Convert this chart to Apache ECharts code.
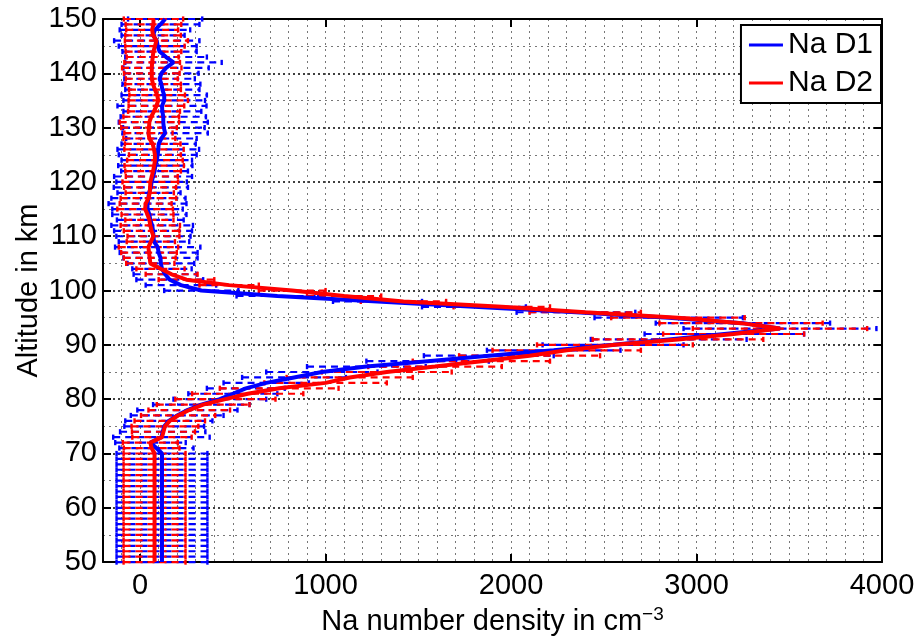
<!DOCTYPE html>
<html>
<head>
<meta charset="utf-8">
<script src="https://cdn.jsdelivr.net/npm/echarts@6/dist/echarts.min.js"></script>
<style>
html, body { margin: 0; padding: 0; background: #fff; }
#chart { width: 922px; height: 641px; }
</style>
</head>
<body>
<div id="chart"></div>
<script>
// altitude grid (km)
var altitudes = [
    50, 51, 52, 53, 54, 55, 56, 57, 58, 59, 60, 61, 62, 63, 64, 65, 66, 67, 68, 69,
    70, 71, 72, 73, 74, 75, 76, 77, 78, 79, 80, 81, 82, 83, 84, 85, 86, 87, 88, 89,
    90, 91, 92, 93, 94, 95, 96, 97, 98, 99, 100, 101, 102, 103, 104, 105, 106, 107, 108, 109,
    110, 111, 112, 113, 114, 115, 116, 117, 118, 119, 120, 121, 122, 123, 124, 125, 126, 127, 128, 129,
    130, 131, 132, 133, 134, 135, 136, 137, 138, 139, 140, 141, 142, 143, 144, 145, 146, 147, 148, 149, 150
];

// Na D1 density (cm^-3) and error half width
var naD1 = [
    118, 118, 118, 118, 118, 118, 118, 118, 118, 118, 118, 118, 118, 118, 118, 118, 118, 118, 118, 118,
    118, 88, 56, 115, 122, 130, 155, 200, 255, 330, 430, 500, 570, 680, 830, 980, 1220, 1550, 1880, 2230,
    2550, 2850, 3150, 3450, 3250, 2850, 2350, 1800, 1280, 740, 330, 220, 160, 135, 118, 112, 110, 100, 95, 75,
    72, 70, 65, 55, 50, 40, 40, 45, 48, 58, 62, 70, 78, 82, 90, 95, 98, 100, 115, 135,
    128, 125, 125, 120, 118, 130, 130, 120, 115, 105, 115, 140, 180, 140, 105, 95, 90, 70, 80, 110, 135
];
var naD1Err = [
    245, 245, 245, 245, 245, 245, 245, 245, 245, 245, 245, 245, 245, 245, 245, 245, 245, 245, 245, 245,
    245, 200, 190, 260, 230, 215, 235, 250, 270, 260, 250, 240, 210, 230, 280, 300, 320, 330, 350, 360,
    380, 420, 430, 520, 470, 400, 320, 280, 240, 220, 200, 190, 180, 170, 160, 180, 200, 210, 230, 190,
    200, 210, 220, 180, 200, 190, 210, 200, 170, 200, 190, 210, 180, 200, 190, 210, 220, 200, 190, 230,
    220, 240, 230, 210, 240, 220, 230, 200, 210, 190, 200, 230, 260, 220, 200, 210, 230, 170, 190, 210, 200
];

// Na D2 density (cm^-3) and error half width
var naD2 = [
    78, 78, 78, 78, 78, 78, 78, 78, 78, 78, 78, 78, 78, 78, 78, 78, 78, 78, 78, 78,
    78, 62, 55, 118, 126, 134, 160, 205, 265, 340, 460, 580, 750, 1000, 1130, 1330, 1590, 1840, 2100, 2300,
    2560, 2900, 3200, 3450, 3240, 2900, 2400, 1950, 1420, 1100, 820, 480, 250, 170, 110, 55, 52, 48, 45, 58,
    72, 62, 55, 50, 40, 27, 30, 45, 52, 54, 55, 63, 70, 76, 80, 80, 75, 68, 50, 45,
    48, 50, 60, 75, 88, 98, 92, 80, 70, 63, 63, 63, 65, 68, 72, 80, 88, 70, 65, 72, 72
];
var naD2Err = [
    167, 167, 167, 167, 167, 167, 167, 167, 167, 167, 167, 167, 167, 167, 167, 167, 167, 167, 167, 167,
    167, 150, 148, 160, 170, 180, 190, 200, 220, 250, 270, 300, 320, 330, 340, 350, 360, 370, 380, 400,
    420, 460, 380, 470, 440, 360, 300, 260, 230, 200, 180, 160, 150, 140, 130, 130, 140, 150, 160, 130,
    140, 150, 160, 130, 140, 150, 140, 150, 130, 140, 150, 140, 150, 160, 150, 140, 160, 150, 140, 130,
    150, 160, 150, 140, 150, 160, 150, 140, 150, 140, 150, 160, 150, 140, 150, 160, 170, 150, 140, 150, 160
];

var xTicks = [0, 1000, 2000, 3000, 4000];
var seriesNames = ['Na D1', 'Na D2'];

var FONT = '"Liberation Sans", Arial, Helvetica, sans-serif';

function toLine(vals) {
    return altitudes.map(function (a, i) { return [vals[i], a]; });
}
function toBars(vals, errs) {
    return altitudes.map(function (a, i) { return [vals[i] - errs[i], vals[i] + errs[i], a]; });
}

// horizontal error bar with end caps
function errorBar(color) {
    return function (params, api) {
        var alt = api.value(2);
        var p1 = api.coord([api.value(0), alt]);
        var p2 = api.coord([api.value(1), alt]);
        var h = 2.6;
        return {
            type: 'group',
            children: [
                { type: 'line', shape: { x1: p1[0], y1: p1[1], x2: p2[0], y2: p2[1] },
                  style: { stroke: color, lineWidth: 2.2, lineDash: [7, 5] } },
                { type: 'line', shape: { x1: p1[0], y1: p1[1] - h, x2: p1[0], y2: p1[1] + h },
                  style: { stroke: color, lineWidth: 2.4 } },
                { type: 'line', shape: { x1: p2[0], y1: p2[1] - h, x2: p2[0], y2: p2[1] + h },
                  style: { stroke: color, lineWidth: 2.4 } }
            ]
        };
    };
}

var myChart = echarts.init(document.getElementById('chart'));

var frame = { show: true, onZero: false, lineStyle: { color: '#000', width: 2 } };

option = {
    animation: false,
    backgroundColor: '#fff',
    textStyle: { fontFamily: FONT },
    grid: { left: 103, right: 40, top: 19, bottom: 75, containLabel: false },
    legend: {
        data: seriesNames,
        orient: 'vertical',
        right: 41,
        top: 25,
        icon: 'rect',
        itemWidth: 34,
        itemHeight: 3,
        itemGap: 8,
        padding: [5, 8, 5, 8],
        backgroundColor: '#fff',
        borderColor: '#000',
        borderWidth: 2,
        borderRadius: 0,
        textStyle: { fontSize: 30, color: '#000', fontFamily: FONT }
    },
    xAxis: [{
        type: 'value',
        min: -200,
        max: 4000,
        interval: 100,
        position: 'bottom',
        name: 'Na number density in cm{sup|\u22123}',
        nameLocation: 'middle',
        nameGap: 40,
        nameTextStyle: {
            fontSize: 29, color: '#000', fontFamily: FONT,
            rich: { sup: { fontSize: 19, verticalAlign: 'top', padding: [0, 0, 14, 0], fontFamily: FONT, color: '#000' } }
        },
        axisLine: frame,
        axisTick: { show: false },
        axisLabel: {
            fontSize: 29, color: '#000', fontFamily: FONT, margin: 9,
            formatter: function (v) { return v % 1000 === 0 ? String(v) : ''; }
        },
        splitLine: { show: true, lineStyle: { color: '#777', width: 1, type: [2, 4] } }
    }, {
        type: 'value',
        min: -200,
        max: 4000,
        position: 'bottom',
        axisLine: { show: false, onZero: false },
        axisTick: { show: true, inside: true, length: 8, customValues: xTicks, lineStyle: { color: '#000', width: 2 } },
        axisLabel: { show: false },
        splitLine: { show: false }
    }, {
        type: 'value',
        min: -200,
        max: 4000,
        position: 'top',
        axisLine: frame,
        axisTick: { show: true, inside: true, length: 8, customValues: xTicks, lineStyle: { color: '#000', width: 2 } },
        axisLabel: { show: false },
        splitLine: { show: false }
    }],
    yAxis: [{
        type: 'value',
        min: 50,
        max: 150,
        interval: 10,
        position: 'left',
        name: 'Altitude in km',
        nameLocation: 'middle',
        nameGap: 60,
        nameMoveOverlap: false,
        nameTextStyle: { fontSize: 29, color: '#000', fontFamily: FONT },
        axisLine: frame,
        axisTick: { show: true, inside: true, length: 8, lineStyle: { color: '#000', width: 2 } },
        axisLabel: { fontSize: 29, color: '#000', fontFamily: FONT, margin: 6 },
        splitLine: { show: true, lineStyle: { color: '#000', width: 1.5, type: [2, 3] } },
        minorTick: { show: false, splitNumber: 2 },
        minorSplitLine: { show: true, lineStyle: { color: '#777', width: 1, type: [2, 4] } }
    }, {
        type: 'value',
        min: 50,
        max: 150,
        interval: 10,
        position: 'right',
        axisLine: frame,
        axisTick: { show: true, inside: true, length: 8, lineStyle: { color: '#000', width: 2 } },
        axisLabel: { show: false },
        splitLine: { show: false }
    }],
    series: [
        {
            name: 'D1 err',
            type: 'custom',
            renderItem: errorBar('#0000ff'),
            encode: { x: [0, 1], y: 2 },
            data: toBars(naD1, naD1Err),
            z: 1,
            silent: true
        },
        {
            name: 'D2 err',
            type: 'custom',
            renderItem: errorBar('#ff0000'),
            encode: { x: [0, 1], y: 2 },
            data: toBars(naD2, naD2Err),
            z: 2,
            silent: true
        },
        {
            name: seriesNames[0],
            type: 'line',
            data: toLine(naD1),
            showSymbol: false,
            color: '#0000ff',
            lineStyle: { color: '#0000ff', width: 4 },
            z: 3
        },
        {
            name: seriesNames[1],
            type: 'line',
            data: toLine(naD2),
            showSymbol: false,
            color: '#ff0000',
            lineStyle: { color: '#ff0000', width: 4 },
            z: 4
        }
    ]
};

myChart.setOption(option);
window.addEventListener("resize", function () {
    myChart.resize();
});
</script>
</body>
</html>
